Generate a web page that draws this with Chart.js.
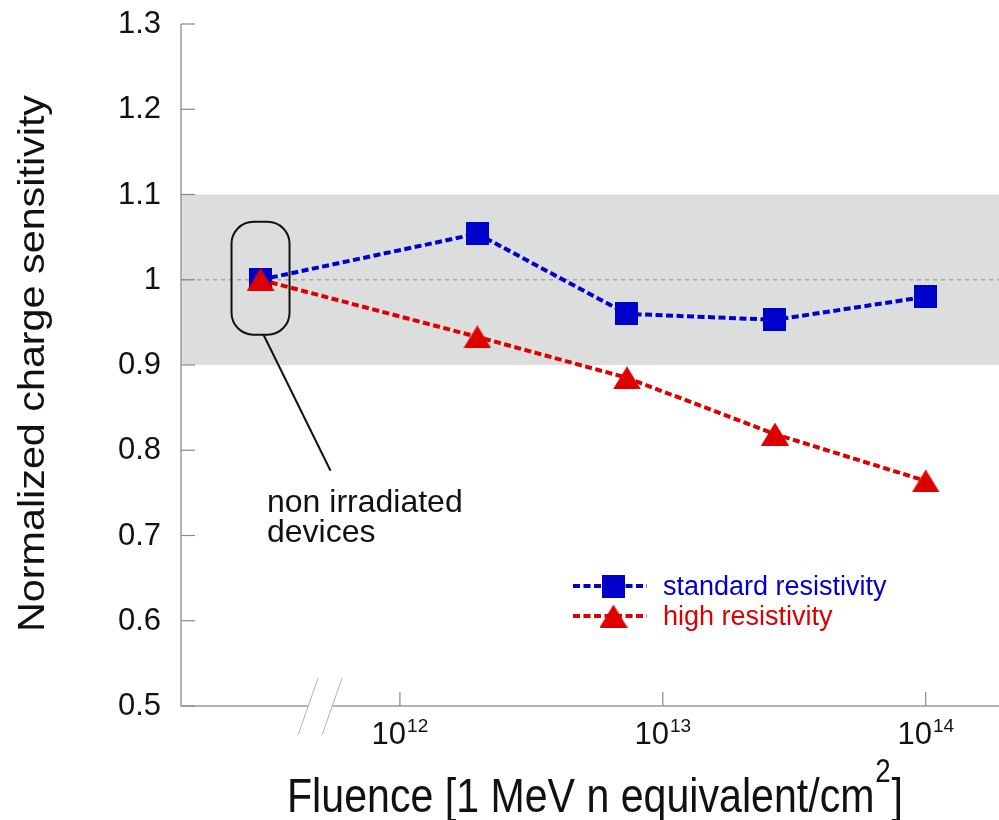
<!DOCTYPE html>
<html>
<head>
<meta charset="utf-8">
<script src="https://cdn.jsdelivr.net/npm/chart.js@4/dist/chart.umd.min.js"></script>
<style>
  body { margin: 0; background: #fff; }
  canvas { display: block; }
</style>
</head>
<body>
<canvas id="chart" width="999" height="820"></canvas>
<script>
// fluence values (first point = non irradiated devices, drawn left of the axis break)
const fluence = [2.95e11, 1.97e12, 7.3e12, 2.67e13, 1.0e14];
const standardRes = [1.0, 1.054, 0.96, 0.953, 0.98];
const highRes = [1.0, 0.933, 0.885, 0.819, 0.764];

const yTicks = [0.5, 0.6, 0.7, 0.8, 0.9, 1.0, 1.1, 1.2, 1.3];
const yTickLabels = ['0.5', '0.6', '0.7', '0.8', '0.9', '1', '1.1', '1.2', '1.3'];
const xTicks = [1e12, 1e13, 1e14];
const xTickExp = ['12', '13', '14'];

const bandRange = [0.9, 1.1];
const refValue = 1.0;
const axisBreak = 4.97e11;

const FONT = '"Liberation Sans", Arial, Helvetica, sans-serif';
const BLUE = '#0000cc';
const RED = '#dd0000';

// marker images, centred on their bounding box
function makeSquare(size, color) {
    const c = document.createElement('canvas');
    c.width = size; c.height = size;
    const g = c.getContext('2d');
    g.fillStyle = color;
    g.fillRect(0, 0, size, size);
    return c;
}
function makeTriangle(w, h, color) {
    const c = document.createElement('canvas');
    c.width = w; c.height = h;
    const g = c.getContext('2d');
    g.fillStyle = color;
    g.beginPath();
    g.moveTo(0, h);
    g.lineTo(w / 2, 0);
    g.lineTo(w, h);
    g.closePath();
    g.fill();
    return c;
}
const squareImg = makeSquare(23, BLUE);
const triangleImg = makeTriangle(28, 23, RED);

function toPoints(xs, ys) {
    return xs.map((x, i) => ({ x: x, y: ys[i] }));
}

const decorations = {
    id: 'decorations',
    beforeDatasetsDraw(chart) {
        const ctx = chart.ctx;
        const a = chart.chartArea;
        const y = chart.scales.y;
        ctx.save();
        // tolerance band
        const top = y.getPixelForValue(bandRange[1]);
        const bottom = y.getPixelForValue(bandRange[0]);
        ctx.fillStyle = '#dcdddd';
        ctx.fillRect(a.left, top, a.right - a.left, bottom - top);
        // reference line at 1
        const yr = y.getPixelForValue(refValue);
        ctx.strokeStyle = '#a8a8a8';
        ctx.lineWidth = 1.5;
        ctx.setLineDash([4, 4]);
        ctx.beginPath();
        ctx.moveTo(a.left, yr);
        ctx.lineTo(a.right, yr);
        ctx.stroke();
        ctx.restore();
    },
    afterDatasetsDraw(chart) {
        const ctx = chart.ctx;
        const a = chart.chartArea;
        const x = chart.scales.x;
        const y = chart.scales.y;
        ctx.save();

        // axes
        ctx.strokeStyle = '#9a9a9a';
        ctx.lineWidth = 1.5;
        const xb = x.getPixelForValue(axisBreak);
        ctx.beginPath();
        ctx.moveTo(a.left, a.top);
        ctx.lineTo(a.left, a.bottom);
        ctx.lineTo(xb - 12, a.bottom);
        ctx.moveTo(xb + 12, a.bottom);
        ctx.lineTo(a.right, a.bottom);
        ctx.stroke();

        // axis break marks
        ctx.strokeStyle = '#b0b0b0';
        ctx.lineWidth = 1;
        [-12, 12].forEach(off => {
            ctx.beginPath();
            ctx.moveTo(xb + off + 10, a.bottom - 28);
            ctx.lineTo(xb + off - 10, a.bottom + 29);
            ctx.stroke();
        });

        // y ticks and labels
        ctx.strokeStyle = '#8a8a8a';
        ctx.lineWidth = 1.2;
        ctx.fillStyle = '#111';
        ctx.font = '31px ' + FONT;
        ctx.textAlign = 'right';
        ctx.textBaseline = 'alphabetic';
        yTicks.forEach((v, i) => {
            const py = y.getPixelForValue(v);
            ctx.beginPath();
            ctx.moveTo(a.left, py);
            ctx.lineTo(a.left + 14, py);
            ctx.stroke();
            ctx.fillText(yTickLabels[i], 161, py + 9);
        });

        // x ticks and labels 10^n
        ctx.textAlign = 'left';
        xTicks.forEach((v, i) => {
            const px = x.getPixelForValue(v);
            ctx.beginPath();
            ctx.moveTo(px, a.bottom);
            ctx.lineTo(px, a.bottom - 14);
            ctx.stroke();
            ctx.font = '31px ' + FONT;
            const wBase = ctx.measureText('10').width;
            ctx.font = '19px ' + FONT;
            const wExp = ctx.measureText(xTickExp[i]).width;
            const left = px - (wBase + wExp + 1) / 2;
            ctx.font = '31px ' + FONT;
            ctx.fillText('10', left, a.bottom + 38);
            ctx.font = '19px ' + FONT;
            ctx.fillText(xTickExp[i], left + wBase + 1, a.bottom + 26);
        });

        // x title (condensed, with superscript 2)
        ctx.save();
        ctx.translate(287, 812);
        const partA = 'Fluence [1 MeV n equivalent/cm';
        ctx.font = '49px ' + FONT;
        const wA = ctx.measureText(partA).width;
        const wC = ctx.measureText(']').width;
        ctx.font = '33px ' + FONT;
        const wB = ctx.measureText('2').width;
        ctx.scale(616 / (wA + wB + wC + 2), 1);
        ctx.font = '49px ' + FONT;
        ctx.fillText(partA, 0, 0);
        ctx.font = '33px ' + FONT;
        ctx.fillText('2', wA + 1, -30);
        ctx.font = '49px ' + FONT;
        ctx.fillText(']', wA + wB + 2, 0);
        ctx.restore();

        // y title (rotated, stretched along its length)
        ctx.save();
        ctx.translate(44, 363.5);
        ctx.rotate(-Math.PI / 2);
        ctx.font = '37px ' + FONT;
        ctx.textAlign = 'center';
        const yt = 'Normalized charge sensitivity';
        ctx.scale(537 / ctx.measureText(yt).width, 1);
        ctx.fillText(yt, 0, 0);
        ctx.restore();

        // annotation around the non irradiated points
        const p0x = x.getPixelForValue(fluence[0]);
        const p0y = y.getPixelForValue(refValue);
        ctx.strokeStyle = '#111';
        ctx.lineWidth = 2;
        ctx.beginPath();
        ctx.roundRect(p0x - 29, p0y - 58, 58, 113, 22);
        ctx.stroke();
        ctx.beginPath();
        ctx.moveTo(p0x + 3, p0y + 55);
        ctx.lineTo(p0x + 70, p0y + 191);
        ctx.stroke();
        ctx.fillStyle = '#111';
        ctx.font = '32px ' + FONT;
        ctx.textAlign = 'left';
        ctx.fillText('non irradiated', 267, 512);
        ctx.fillText('devices', 267, 542);

        // legend
        const items = chart.data.datasets.map((ds, i) => ({ ds: ds, y: [586, 616][i] }));
        items.forEach(it => {
            ctx.strokeStyle = it.ds.borderColor;
            ctx.lineWidth = it.ds.borderWidth;
            ctx.setLineDash(it.ds.borderDash);
            ctx.beginPath();
            ctx.moveTo(573, it.y);
            ctx.lineTo(647, it.y);
            ctx.stroke();
            ctx.setLineDash([]);
            const img = it.ds.pointStyle;
            ctx.drawImage(img, 613.5 - img.width / 2, it.y - img.height / 2);
            ctx.fillStyle = it.ds.borderColor;
            ctx.font = '27px ' + FONT;
            ctx.fillText(it.ds.label, 663, it.y + 9);
        });

        ctx.restore();
    }
};

const ctxChart = document.getElementById('chart').getContext('2d');
const chart = new Chart(ctxChart, {
    type: 'scatter',
    data: {
        datasets: [{
            label: 'standard resistivity',
            data: toPoints(fluence, standardRes),
            showLine: true,
            borderColor: BLUE,
            backgroundColor: BLUE,
            borderWidth: 4,
            borderDash: [7, 3.5],
            pointStyle: squareImg,
            pointRadius: 12,
            order: 1
        }, {
            label: 'high resistivity',
            data: toPoints(fluence, highRes),
            showLine: true,
            borderColor: RED,
            backgroundColor: RED,
            borderWidth: 4,
            borderDash: [7, 3.5],
            pointStyle: triangleImg,
            pointRadius: 12,
            order: 0
        }]
    },
    options: {
        responsive: false,
        animation: false,
        layout: {
            autoPadding: false,
            padding: { left: 181, top: 24, right: 0, bottom: 114 }
        },
        plugins: {
            legend: { display: false },
            tooltip: { enabled: false }
        },
        scales: {
            x: { type: 'logarithmic', min: 1.47e11, max: 1.9e14, display: false },
            y: { type: 'linear', min: 0.5, max: 1.3, display: false }
        }
    },
    plugins: [decorations]
});
</script>
</body>
</html>
